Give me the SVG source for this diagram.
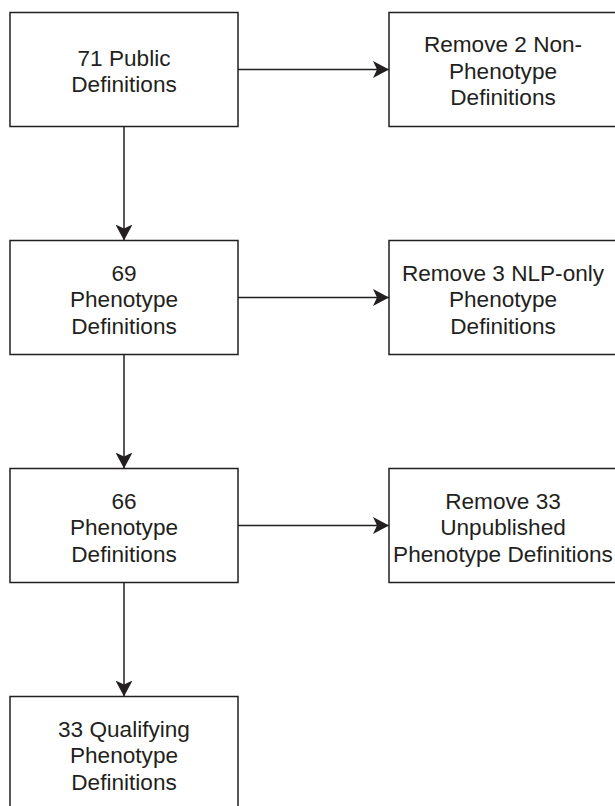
<svg xmlns="http://www.w3.org/2000/svg" width="615" height="806" viewBox="0 0 615 806">
  <style>
    .box { fill: #ffffff; stroke: #231f20; stroke-width: 1.5; }
    .lbl { font-family: "Liberation Sans", Arial, sans-serif; font-size: 22.6px; fill: #231f20; text-anchor: middle; }
    .edge { stroke: #231f20; stroke-width: 1.5; fill: none; marker-end: url(#arrow); }
  </style>
  <defs>
    <marker id="arrow" viewBox="0 0 16 17" markerWidth="16" markerHeight="17" refX="16" refY="8.5" orient="auto" markerUnits="userSpaceOnUse">
      <path d="M0,0 L16,8.5 L0,17 L4,8.5 Z" fill="#231f20"/>
    </marker>
  </defs>
  <rect width="615" height="806" fill="#ffffff"/>

  <g id="connectors">
    <line class="edge" x1="238" y1="69.5" x2="389" y2="69.5"/>
    <line class="edge" x1="124" y1="126.5" x2="124" y2="240.5"/>
    <line class="edge" x1="238" y1="297.5" x2="389" y2="297.5"/>
    <line class="edge" x1="124" y1="354.5" x2="124" y2="468.5"/>
    <line class="edge" x1="238" y1="525.5" x2="389" y2="525.5"/>
    <line class="edge" x1="124" y1="582.5" x2="124" y2="696.5"/>
  </g>

  <g id="node-71-public">
    <rect class="box" x="10" y="12.5" width="228" height="114"/>
    <text class="lbl" x="124" y="65.5">71 Public</text>
    <text class="lbl" x="124" y="92">Definitions</text>
  </g>

  <g id="node-remove-2">
    <rect class="box" x="389" y="12.5" width="228" height="114"/>
    <text class="lbl" x="503" y="52">Remove 2 Non-</text>
    <text class="lbl" x="503" y="78.5">Phenotype</text>
    <text class="lbl" x="503" y="105">Definitions</text>
  </g>

  <g id="node-69">
    <rect class="box" x="10" y="240.5" width="228" height="114"/>
    <text class="lbl" x="124" y="280.5">69</text>
    <text class="lbl" x="124" y="307">Phenotype</text>
    <text class="lbl" x="124" y="333.5">Definitions</text>
  </g>

  <g id="node-remove-3">
    <rect class="box" x="389" y="240.5" width="228" height="114"/>
    <text class="lbl" x="503" y="280.5">Remove 3 NLP-only</text>
    <text class="lbl" x="503" y="307">Phenotype</text>
    <text class="lbl" x="503" y="333.5">Definitions</text>
  </g>

  <g id="node-66">
    <rect class="box" x="10" y="468.5" width="228" height="114"/>
    <text class="lbl" x="124" y="508.5">66</text>
    <text class="lbl" x="124" y="535">Phenotype</text>
    <text class="lbl" x="124" y="561.5">Definitions</text>
  </g>

  <g id="node-remove-33">
    <rect class="box" x="389" y="468.5" width="228" height="114"/>
    <text class="lbl" x="503" y="508.5">Remove 33</text>
    <text class="lbl" x="503" y="535">Unpublished</text>
    <text class="lbl" x="503" y="561.5">Phenotype Definitions</text>
  </g>

  <g id="node-33-qualifying">
    <rect class="box" x="10" y="696.5" width="228" height="114"/>
    <text class="lbl" x="124" y="736.5">33 Qualifying</text>
    <text class="lbl" x="124" y="763">Phenotype</text>
    <text class="lbl" x="124" y="789.5">Definitions</text>
  </g>
</svg>
